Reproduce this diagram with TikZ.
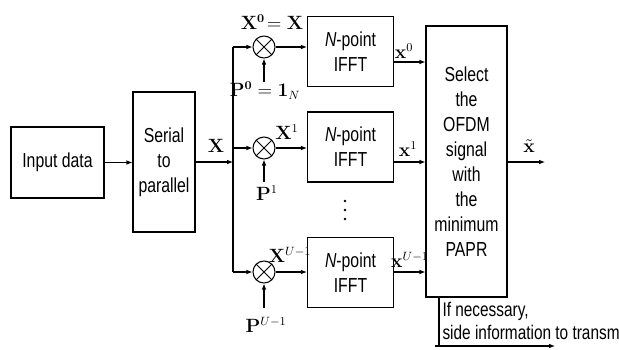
\documentclass[tikz,border=0pt]{standalone}
\usepackage[no-math]{fontspec}
\setmainfont{Liberation Sans}[FakeStretch=0.78]
\usetikzlibrary{arrows.meta,positioning}
\newcommand\boxfont{\fontsize{15.2}{18.7}\selectfont}
\newcommand\notefont{\fontsize{14.8}{18}\selectfont}
\newcommand\lblfont{\fontsize{13.5}{15}\selectfont}
\begin{document}
\begin{tikzpicture}[x=0.75pt, y=-0.75pt, line width=0.8pt,
    box/.style={draw, inner sep=0pt, align=center, font=\boxfont},
    mixer/.style={draw, circle, minimum size=16.5pt, inner sep=0pt,
        path picture={\draw[line width=0.6pt]
            (path picture bounding box.north west) -- (path picture bounding box.south east)
            (path picture bounding box.north east) -- (path picture bounding box.south west);}},
    sig/.style={-{Latex[length=4.5pt,width=3.5pt]}},
    lbl/.style={font=\lblfont, inner sep=1pt}]

    \useasboundingbox (0,0) rectangle (619,350);

    % Input and serial to parallel
    \node[box, minimum width=69.75pt, minimum height=53.25pt] (input) at (57.5,162.5) {Input data};
    \node[box, minimum width=46.5pt, minimum height=105pt] (sp) at (164,162) {Serial\\to\\parallel};
    \draw[sig] (input) -- (input -| sp.west);

    % Bus to the mixers
    \coordinate (bus0) at (233,47);
    \coordinate (bus2) at (233,272);
    \draw (bus0) -- (bus2);
    \draw[sig] (sp.east |- 0,162) -- (bus0 |- 0,162);
    \node[lbl] (xlab) at (216,146) {$\mathbf{X}$};

    % Mixers
    \node[mixer] (m0) at (264,47) {};
    \node[mixer] (m1) at (264,148) {};
    \node[mixer] (m2) at (264,272) {};
    \draw[sig] (bus0) -- (m0);
    \draw[sig] (bus0 |- m1) -- (m1);
    \draw[sig] (bus2) -- (m2);

    % Phase sequences
    \coordinate (p0) at (264,82);
    \coordinate (p1) at (264,182);
    \coordinate (p2) at (264,308);
    \draw[sig] (p0) -- (m0);
    \draw[sig] (p1) -- (m1);
    \draw[sig] (p2) -- (m2);
    \node[lbl] (p0lab) at (265,91) {$\mathbf{P}^{\mathbf{0}}=\mathbf{1}_{N}$};
    \node[lbl] (p1lab) at (267,193) {$\mathbf{P}^{1}$};
    \node[lbl] (p2lab) at (266,325) {$\mathbf{P}^{U-1}$};

    % IFFT blocks
    \node[box, minimum width=64.5pt, minimum height=52.5pt] (ifft0) at (350.5,51.5) {\textit{N}-point\\IFFT};
    \node[box, minimum width=64.5pt, minimum height=52.5pt] (ifft1) at (350.5,147) {\textit{N}-point\\IFFT};
    \node[box, minimum width=64.5pt, minimum height=52.5pt] (ifft2) at (350.5,272.5) {\textit{N}-point\\IFFT};
    \foreach \y in {201,210,219}
        \fill (345,\y) circle (1.3);
    \draw[sig] (m0) -- (m0 -| ifft0.west);
    \draw[sig] (m1) -- (m1 -| ifft1.west);
    \draw[sig] (m2) -- (m2 -| ifft2.west);
    \node[lbl] (x0lab) at (272,22) {$\mathbf{X}^{\mathbf{0}}\!=\mathbf{X}$};
    \node[lbl] (x1lab) at (287,132) {$\mathbf{X}^{1}$};
    \node[lbl] (x2lab) at (290,255) {$\mathbf{X}^{U-1}$};

    % Selection of the signal
    \node[box, minimum width=60.75pt, minimum height=203.25pt] (sel) at (466.5,161.5)
        {Select\\the\\OFDM\\signal\\with\\the\\minimum\\PAPR};
    \coordinate (o0) at (393,62);
    \coordinate (o1) at (393,162);
    \coordinate (o2) at (393,272);
    \draw[sig] (o0) -- (o0 -| sel.west);
    \draw[sig] (o1) -- (o1 -| sel.west);
    \draw[sig] (o2) -- (o2 -| sel.west);
    \node[lbl] (y0lab) at (404,51) {$\mathbf{x}^{0}$};
    \node[lbl] (y1lab) at (408,149) {$\mathbf{x}^{1}$};
    \node[lbl] (y2lab) at (410,260) {$\mathbf{x}^{U-1}$};

    % Output
    \coordinate (out) at (545,162);
    \draw[sig] (sel.east |- out) -- (out);
    \node[lbl] (outlab) at (529,146) {$\tilde{\mathbf{x}}$};

    % Side information
    \coordinate (sideBot) at (439,346);
    \coordinate (sideStart) at (435,346);
    \coordinate (sideEnd) at (555,346);
    \draw (sel.south -| sideBot) -- (sideBot);
    \draw[sig] (sideStart) -- (sideEnd);
    \node[anchor=west, font=\notefont, inner sep=0pt] (note1) at (442,311) {If necessary,};
    \node[anchor=west, font=\notefont, inner sep=0pt] (note2) at (442,332) {side information to transm};

\end{tikzpicture}
\end{document}
